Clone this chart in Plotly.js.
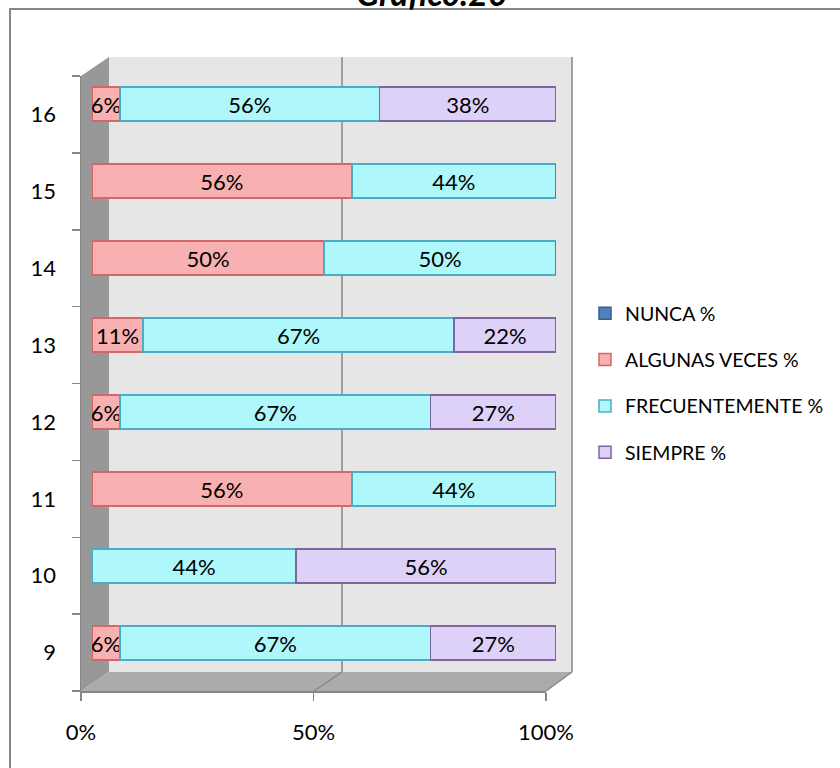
<!DOCTYPE html>
<html><head><meta charset="utf-8">
<script src="https://cdn.plot.ly/plotly-3.0.1.min.js"></script>
<style>html,body{margin:0;padding:0;background:#fff}#chart{width:840px;height:768px}</style>
</head><body><div id="chart"></div>
<script>
// ---- data ----
const categories = ['9','10','11','12','13','14','15','16'];
const nunca          = [0, 0, 0, 0, 0, 0, 0, 0];
const algunasVeces   = [6, 0, 56, 6, 11, 50, 56, 6];
const frecuentemente = [67, 44, 44, 67, 67, 50, 44, 56];
const siempre        = [27, 56, 0, 27, 22, 0, 0, 38];
const seriesNames = ['NUNCA %', 'ALGUNAS VECES %', 'FRECUENTEMENTE %', 'SIEMPRE %'];
const xTickVals = [0, 50, 100];
const xTickText = ['0%', '50%', '100%'];
const titleText = 'Gráfico.20';

// ---- styles ----
const FONT = 'Lato, "Open Sans", sans-serif';
const fills   = ['#4F81BD', '#F9B0B0', '#AEF7FA', '#DED1F7'];
const borders = ['#385D8A', '#D0686A', '#4BACC6', '#8064A2'];
const seriesValues = [nunca, algunasVeces, frecuentemente, siempre];

// plot area in pixels
const L = 81, R = 572, T = 55, B = 691, W = R - L, H = B - T;
const px = x => (x - L) / W;
const py = y => (B - y) / H;

const traces = seriesValues.map((vals, i) => ({
  type: 'bar',
  orientation: 'h',
  name: seriesNames[i],
  legendgroup: 'g' + i,
  y: categories,
  x: vals,
  xaxis: 'x', yaxis: 'y',
  text: vals.map(v => v > 0 ? v + '%' : ''),
  textposition: 'inside',
  insidetextanchor: 'middle',
  textangle: 0,
  constraintext: 'none',
  textfont: {family: FONT, size: 22, color: '#000000'},
  marker: {color: fills[i], line: {color: borders[i], width: 1.5}},
  hoverinfo: 'skip'
}));
// empty trace so that the front (label) axes x2/y2 form a drawn subplot
traces.push({type: 'scatter', mode: 'none', x: [], y: [], xaxis: 'x2', yaxis: 'y2', showlegend: false, hoverinfo: 'skip'});

const grid = '#868686';
const shapes = [
  // outer frame
  {type: 'rect', xref: 'paper', yref: 'paper', x0: px(10), x1: px(860), y0: py(9), y1: py(790),
   line: {color: grid, width: 2}, fillcolor: 'rgba(0,0,0,0)', layer: 'below'},
  // back wall
  {type: 'rect', xref: 'paper', yref: 'paper', x0: px(109), x1: px(572), y0: py(672), y1: py(57),
   line: {width: 0}, fillcolor: '#E6E6E6', layer: 'below'},
  // left wall
  {type: 'path', xref: 'paper', yref: 'paper', layer: 'below', line: {width: 0}, fillcolor: '#989898',
   path: `M ${px(81)} ${py(76)} L ${px(109)} ${py(57)} L ${px(109)} ${py(672)} L ${px(81)} ${py(691)} Z`},
  // floor
  {type: 'path', xref: 'paper', yref: 'paper', layer: 'below', line: {width: 0}, fillcolor: '#ABABAB',
   path: `M ${px(81)} ${py(691)} L ${px(109)} ${py(672)} L ${px(572)} ${py(672)} L ${px(546)} ${py(691)} Z`},
  // gridlines on back wall + floor
  {type: 'line', xref: 'paper', yref: 'paper', layer: 'below', x0: px(342), x1: px(342), y0: py(57), y1: py(672), line: {color: grid, width: 1.5}},
  {type: 'line', xref: 'paper', yref: 'paper', layer: 'below', x0: px(572), x1: px(572), y0: py(57), y1: py(672), line: {color: grid, width: 1.5}},
  {type: 'line', xref: 'paper', yref: 'paper', layer: 'below', x0: px(314), x1: px(342), y0: py(691), y1: py(672), line: {color: grid, width: 1.5}},
  {type: 'line', xref: 'paper', yref: 'paper', layer: 'below', x0: px(546), x1: px(572), y0: py(691), y1: py(672), line: {color: grid, width: 1.5}}
];

const layout = {
  width: 840, height: 768,
  margin: {l: L, r: 840 - R, t: T, b: 768 - B, pad: 0, autoexpand: false},
  paper_bgcolor: '#ffffff', plot_bgcolor: 'rgba(0,0,0,0)',
  barmode: 'stack',
  bargap: 1 - 34 / 77,
  showlegend: true,
  title: {text: '<b><i>' + titleText + '</i></b>', font: {family: FONT, size: 34, color: '#000'},
          xref: 'container', yref: 'container', x: 432 / 840, xanchor: 'center', y: 1 - 6 / 768, yanchor: 'bottom'},
  xaxis: {domain: [px(92), px(556)], range: [0, 100], visible: false, fixedrange: true},
  yaxis: {domain: [py(681.5), py(65.5)], type: 'category', range: [-0.5, categories.length - 0.5], visible: false, fixedrange: true},
  xaxis2: {domain: [px(81), px(546)], anchor: 'y2', range: [0, 100], tickmode: 'array', tickvals: xTickVals, ticktext: xTickText,
           ticks: 'outside', ticklen: 8, tickwidth: 1.5, tickcolor: grid, showline: true, linecolor: grid, linewidth: 1.5,
           showgrid: false, zeroline: false, tickfont: {family: FONT, size: 22, color: '#000'}, ticklabelstandoff: 13, fixedrange: true},
  yaxis2: {domain: [0, py(76)], anchor: 'x2', range: [-0.5, categories.length - 0.5], tickmode: 'array',
           tickvals: categories.map((c, i) => i), ticktext: categories, ticks: '',
           minor: {tickmode: 'array', tickvals: categories.concat(['']).map((c, i) => i - 0.5), ticks: 'outside', ticklen: 8, tickwidth: 1.5, tickcolor: grid, showgrid: false},
           showline: true, linecolor: grid, linewidth: 1.5, showgrid: false, zeroline: false,
           tickfont: {family: FONT, size: 22, color: '#000'}, ticklabelstandoff: 19, fixedrange: true},
  legend: {x: px(585), y: py(294), xanchor: 'left', yanchor: 'top', traceorder: 'grouped', tracegroupgap: 18,
           font: {family: FONT, size: 19.5, color: '#000'}, bgcolor: 'rgba(0,0,0,0)'},
  shapes: shapes
};

Plotly.newPlot('chart', traces, layout, {staticPlot: true, displayModeBar: false});
</script>
</body></html>
